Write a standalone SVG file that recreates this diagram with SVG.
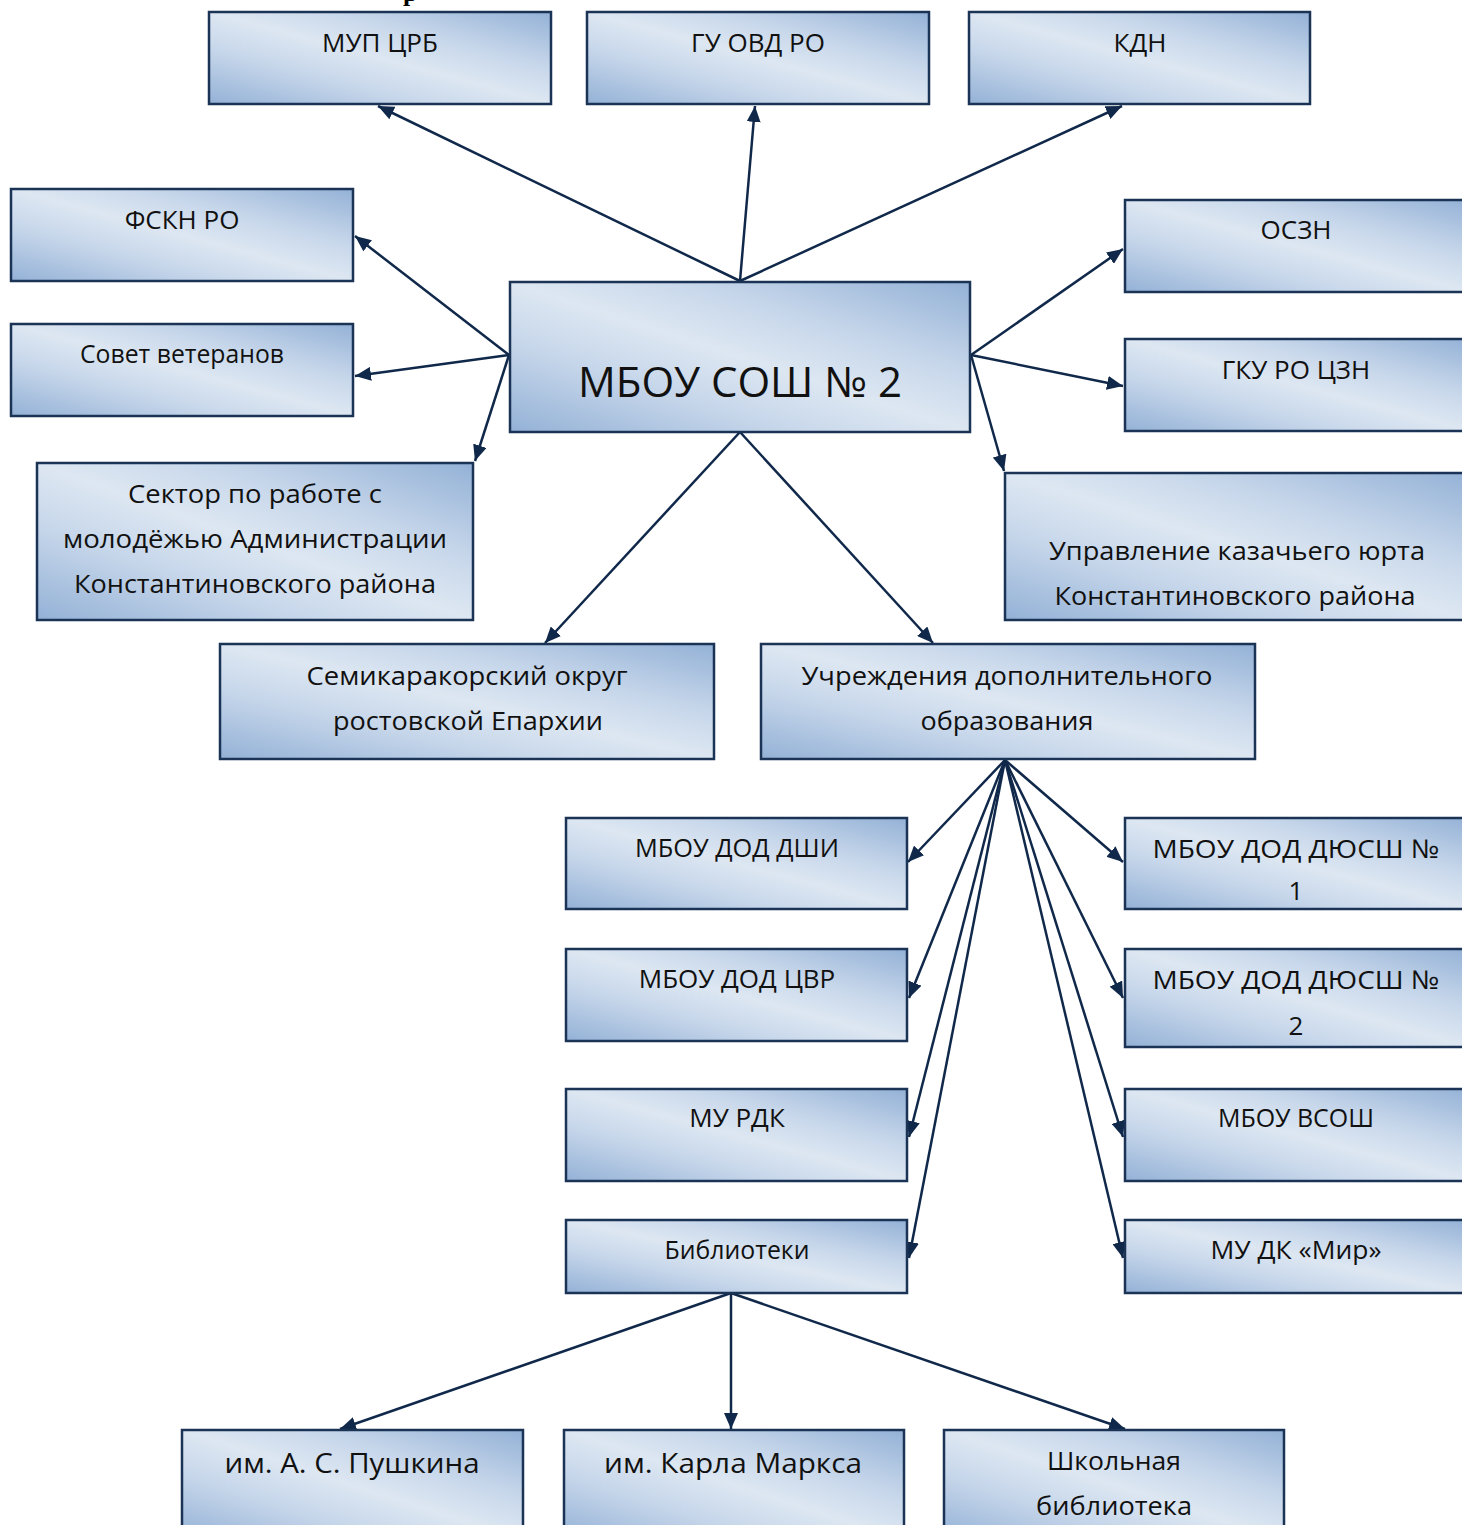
<svg xmlns="http://www.w3.org/2000/svg" width="1462" height="1525" viewBox="0 0 1462 1525">
<defs>
<linearGradient id="g" x1="0" y1="1" x2="1" y2="0">
<stop offset="0" stop-color="#93b1d6"/>
<stop offset="0.3" stop-color="#c6d6ea"/>
<stop offset="0.5" stop-color="#dde7f2"/>
<stop offset="0.7" stop-color="#c6d6ea"/>
<stop offset="1" stop-color="#93b1d6"/>
</linearGradient>
<marker id="a" markerUnits="userSpaceOnUse" markerWidth="18" markerHeight="14" refX="16" refY="7" orient="auto">
<path d="M0,0 L16,7 L0,14 z" fill="#10284a"/>
</marker>
<style>
.b{fill:url(#g);stroke:#1b3354;stroke-width:2.5}
.t{font-family:"Open Sans","Noto Sans",sans-serif;font-size:26px;fill:#111;text-anchor:middle}
.c{stroke:#10284a;stroke-width:2.5;fill:none;marker-end:url(#a)}
</style>
</defs>
<rect width="1462" height="1525" fill="#fff"/>
<text x="403" y="1" font-family="Liberation Serif,serif" font-weight="bold" font-size="26" fill="#000">р</text>

<g id="connectors">
<line class="c" x1="740" y1="281" x2="378" y2="106"/>
<line class="c" x1="740" y1="281" x2="755" y2="106"/>
<line class="c" x1="740" y1="281" x2="1122" y2="106"/>
<line class="c" x1="509" y1="355" x2="355" y2="236"/>
<line class="c" x1="509" y1="355" x2="355" y2="376"/>
<line class="c" x1="509" y1="355" x2="475" y2="461"/>
<line class="c" x1="971" y1="355" x2="1123" y2="249"/>
<line class="c" x1="971" y1="355" x2="1123" y2="386"/>
<line class="c" x1="971" y1="355" x2="1004" y2="471"/>
<line class="c" x1="740" y1="432" x2="545" y2="643"/>
<line class="c" x1="740" y1="432" x2="933" y2="643"/>
<line class="c" x1="1005" y1="760" x2="908" y2="862"/>
<line class="c" x1="1005" y1="760" x2="909" y2="998"/>
<line class="c" x1="1005" y1="760" x2="909" y2="1137"/>
<line class="c" x1="1005" y1="760" x2="909" y2="1258"/>
<line class="c" x1="1005" y1="760" x2="1123" y2="862"/>
<line class="c" x1="1005" y1="760" x2="1123" y2="998"/>
<line class="c" x1="1005" y1="760" x2="1123" y2="1137"/>
<line class="c" x1="1005" y1="760" x2="1123" y2="1258"/>
<line class="c" x1="731" y1="1293" x2="340" y2="1429"/>
<line class="c" x1="731" y1="1293" x2="731" y2="1429"/>
<line class="c" x1="731" y1="1293" x2="1125" y2="1429"/>
</g>

<g id="n-mup"><rect class="b" x="209" y="12" width="342" height="92"/><text class="t" x="380" y="52">МУП ЦРБ</text></g>
<g id="n-guovd"><rect class="b" x="587" y="12" width="342" height="92"/><text class="t" x="758" y="52">ГУ ОВД РО</text></g>
<g id="n-kdn"><rect class="b" x="969" y="12" width="341" height="92"/><text class="t" x="1140" y="52">КДН</text></g>
<g id="n-fskn"><rect class="b" x="11" y="189" width="342" height="92"/><text class="t" x="182" y="229">ФСКН РО</text></g>
<g id="n-sovet"><rect class="b" x="11" y="324" width="342" height="92"/><text class="t" x="182" y="363" textLength="204" lengthAdjust="spacingAndGlyphs">Совет ветеранов</text></g>
<g id="n-main"><rect class="b" x="510" y="282" width="460" height="150"/><text class="t" x="740" y="397" style="font-size:42px">МБОУ СОШ № 2</text></g>
<g id="n-oszn"><rect class="b" x="1125" y="200" width="344" height="92"/><text class="t" x="1296" y="239">ОСЗН</text></g>
<g id="n-gku"><rect class="b" x="1125" y="339" width="344" height="92"/><text class="t" x="1296" y="379">ГКУ РО ЦЗН</text></g>
<g id="n-sektor"><rect class="b" x="37" y="463" width="436" height="157"/><text class="t" x="255" y="503" textLength="254" lengthAdjust="spacingAndGlyphs">Сектор по работе с</text><text class="t" x="255" y="548" textLength="384" lengthAdjust="spacingAndGlyphs">молодёжью Администрации</text><text class="t" x="255" y="593" textLength="362" lengthAdjust="spacingAndGlyphs">Константиновского района</text></g>
<g id="n-kazak"><rect class="b" x="1005" y="473" width="464" height="147"/><text class="t" x="1237" y="560" textLength="376" lengthAdjust="spacingAndGlyphs">Управление казачьего юрта</text><text class="t" x="1235" y="605" textLength="361" lengthAdjust="spacingAndGlyphs">Константиновского района</text></g>
<g id="n-semi"><rect class="b" x="220" y="644" width="494" height="115"/><text class="t" x="467" y="685" textLength="321" lengthAdjust="spacingAndGlyphs">Семикаракорский округ</text><text class="t" x="468" y="730" textLength="270" lengthAdjust="spacingAndGlyphs">ростовской Епархии</text></g>
<g id="n-uchr"><rect class="b" x="761" y="644" width="494" height="115"/><text class="t" x="1007" y="685" textLength="411" lengthAdjust="spacingAndGlyphs">Учреждения дополнительного</text><text class="t" x="1007" y="730" textLength="173" lengthAdjust="spacingAndGlyphs">образования</text></g>
<g id="n-dshi"><rect class="b" x="566" y="818" width="341" height="91"/><text class="t" x="737" y="857" textLength="204" lengthAdjust="spacingAndGlyphs">МБОУ ДОД ДШИ</text></g>
<g id="n-cvr"><rect class="b" x="566" y="949" width="341" height="92"/><text class="t" x="737" y="988">МБОУ ДОД ЦВР</text></g>
<g id="n-rdk"><rect class="b" x="566" y="1089" width="341" height="92"/><text class="t" x="737" y="1127">МУ РДК</text></g>
<g id="n-bibl"><rect class="b" x="566" y="1220" width="341" height="73"/><text class="t" x="737" y="1259" textLength="145" lengthAdjust="spacingAndGlyphs">Библиотеки</text></g>
<g id="n-dussh1"><rect class="b" x="1125" y="818" width="344" height="91"/><text class="t" x="1296" y="858" textLength="287" lengthAdjust="spacingAndGlyphs">МБОУ ДОД ДЮСШ №</text><text class="t" x="1296" y="900">1</text></g>
<g id="n-dussh2"><rect class="b" x="1125" y="949" width="344" height="98"/><text class="t" x="1296" y="989" textLength="287" lengthAdjust="spacingAndGlyphs">МБОУ ДОД ДЮСШ №</text><text class="t" x="1296" y="1035">2</text></g>
<g id="n-vsosh"><rect class="b" x="1125" y="1089" width="344" height="92"/><text class="t" x="1296" y="1127" textLength="156" lengthAdjust="spacingAndGlyphs">МБОУ ВСОШ</text></g>
<g id="n-mir"><rect class="b" x="1125" y="1220" width="344" height="73"/><text class="t" x="1296" y="1259" textLength="171" lengthAdjust="spacingAndGlyphs">МУ ДК «Мир»</text></g>
<g id="n-push"><rect class="b" x="182" y="1430" width="341" height="110"/><text class="t" x="352" y="1473" style="font-size:28px" textLength="255" lengthAdjust="spacingAndGlyphs">им. А. С. Пушкина</text></g>
<g id="n-marx"><rect class="b" x="564" y="1430" width="340" height="110"/><text class="t" x="733" y="1473" style="font-size:28px" textLength="258" lengthAdjust="spacingAndGlyphs">им. Карла Маркса</text></g>
<g id="n-school"><rect class="b" x="944" y="1430" width="340" height="110"/><text class="t" x="1114" y="1470" textLength="134" lengthAdjust="spacingAndGlyphs">Школьная</text><text class="t" x="1114" y="1515" textLength="156" lengthAdjust="spacingAndGlyphs">библиотека</text></g>
</svg>
